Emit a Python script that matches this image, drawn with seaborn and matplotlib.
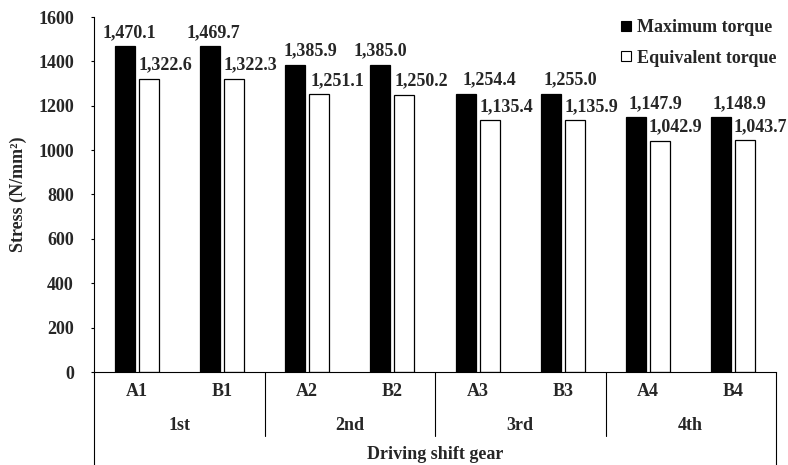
import matplotlib
matplotlib.use("Agg")
import matplotlib.pyplot as plt
from matplotlib.lines import Line2D
import numpy as np
import pandas as pd
import seaborn as sns

# ========== DONNEES ==========
categories = ["A1", "B1", "A2", "B2", "A3", "B3", "A4", "B4"]
groups = ["1st", "2nd", "3rd", "4th"]
max_torque = [1470.1, 1469.7, 1385.9, 1385.0, 1254.4, 1255.0, 1147.9, 1148.9]
equiv_torque = [1322.6, 1322.3, 1251.1, 1250.2, 1135.4, 1135.9, 1042.9, 1043.7]
series = ["Maximum torque", "Equivalent torque"]

# decalage horizontal des etiquettes (pixels), comme dans l'original
max_dx = [5, 3, 15, 0, 24, 19, 19, 18]
equiv_dx = [17, 17, 18, 17, 17, 17, 15, 15]

df = pd.DataFrame({
    "cat": categories * 2,
    "load": [series[0]] * len(categories) + [series[1]] * len(categories),
    "stress": max_torque + equiv_torque,
})

# ========== STYLE ==========
sns.set_style("ticks")
plt.rcParams["font.family"] = ["Liberation Serif", "DejaVu Serif"]
plt.rcParams["font.weight"] = "bold"
plt.rcParams["axes.labelweight"] = "bold"
FS = 13

fig = plt.figure(figsize=(7.88, 4.65), dpi=100)
ax = fig.add_axes([94 / 788, 93 / 465, 682 / 788, 355 / 465])

sns.barplot(data=df, x="cat", y="stress", hue="load", order=categories,
            hue_order=series, palette=["black", "white"], edgecolor="black",
            linewidth=0.9, width=0.56, gap=0.16, ax=ax, legend=False)

ax.set_xlim(-0.5, len(categories) - 0.5)
ax.set_ylim(0, 1600)
ax.set_yticks(np.arange(0, 1601, 200))
ax.tick_params(axis="y", length=2.5, width=0.8, color="black", labelsize=FS, pad=12)
ax.tick_params(axis="x", length=0, labelsize=FS, pad=8)
for lab in ax.get_xticklabels() + ax.get_yticklabels():
    lab.set_fontweight("bold")
ax.set_xlabel("")
ax.set_ylabel("Stress (N/mm²)", fontsize=FS, fontweight="bold", labelpad=8)

sns.despine(ax=ax, top=True, right=True)
for s in ["left", "bottom"]:
    ax.spines[s].set_color("black")
    ax.spines[s].set_linewidth(0.8)

# etiquettes de valeurs
px = 0.72
for cont, dxs in zip(ax.containers, [max_dx, equiv_dx]):
    for bar, dx in zip(cont, dxs):
        h = bar.get_height()
        ax.annotate(f"{h:,.1f}", (bar.get_x() + bar.get_width() / 2, h),
                    xytext=(dx * px, 13.5 * px), textcoords="offset points",
                    ha="center", va="center", fontsize=FS, fontweight="bold",
                    annotation_clip=False)

# axe x a deux niveaux
trans = ax.get_xaxis_transform()
n_per = len(categories) // len(groups)
for k, g in enumerate(groups):
    xc = k * n_per + (n_per - 1) / 2
    ax.text(xc, -0.152, g, transform=trans, ha="center", va="center",
            fontsize=FS, fontweight="bold")
for k in range(1, len(groups)):
    xb = k * n_per - 0.5
    ax.plot([xb, xb], [0, -0.18], transform=trans, color="black",
            lw=0.8, clip_on=False)
for xb in [-0.5, len(categories) - 0.5]:
    ax.plot([xb, xb], [0, -0.27], transform=trans, color="black",
            lw=0.8, clip_on=False)
ax.text((len(categories) - 1) / 2, -0.232, "Driving shift gear", transform=trans,
        ha="center", va="center", fontsize=FS, fontweight="bold")

# legende
handles = [
    Line2D([], [], marker="s", ls="none", markersize=7.5,
           markerfacecolor="black", markeredgecolor="black", markeredgewidth=0.8),
    Line2D([], [], marker="s", ls="none", markersize=7.5,
           markerfacecolor="white", markeredgecolor="black", markeredgewidth=0.8),
]
fig.legend(handles, series, loc="upper left", bbox_to_anchor=(620 / 788, 1 - 19 / 465),
           frameon=False, prop={"size": FS, "weight": "bold"}, handlelength=0.7,
           handletextpad=0.25, labelspacing=0.75, borderpad=0, borderaxespad=0)

fig.savefig("out.png", dpi=100)
